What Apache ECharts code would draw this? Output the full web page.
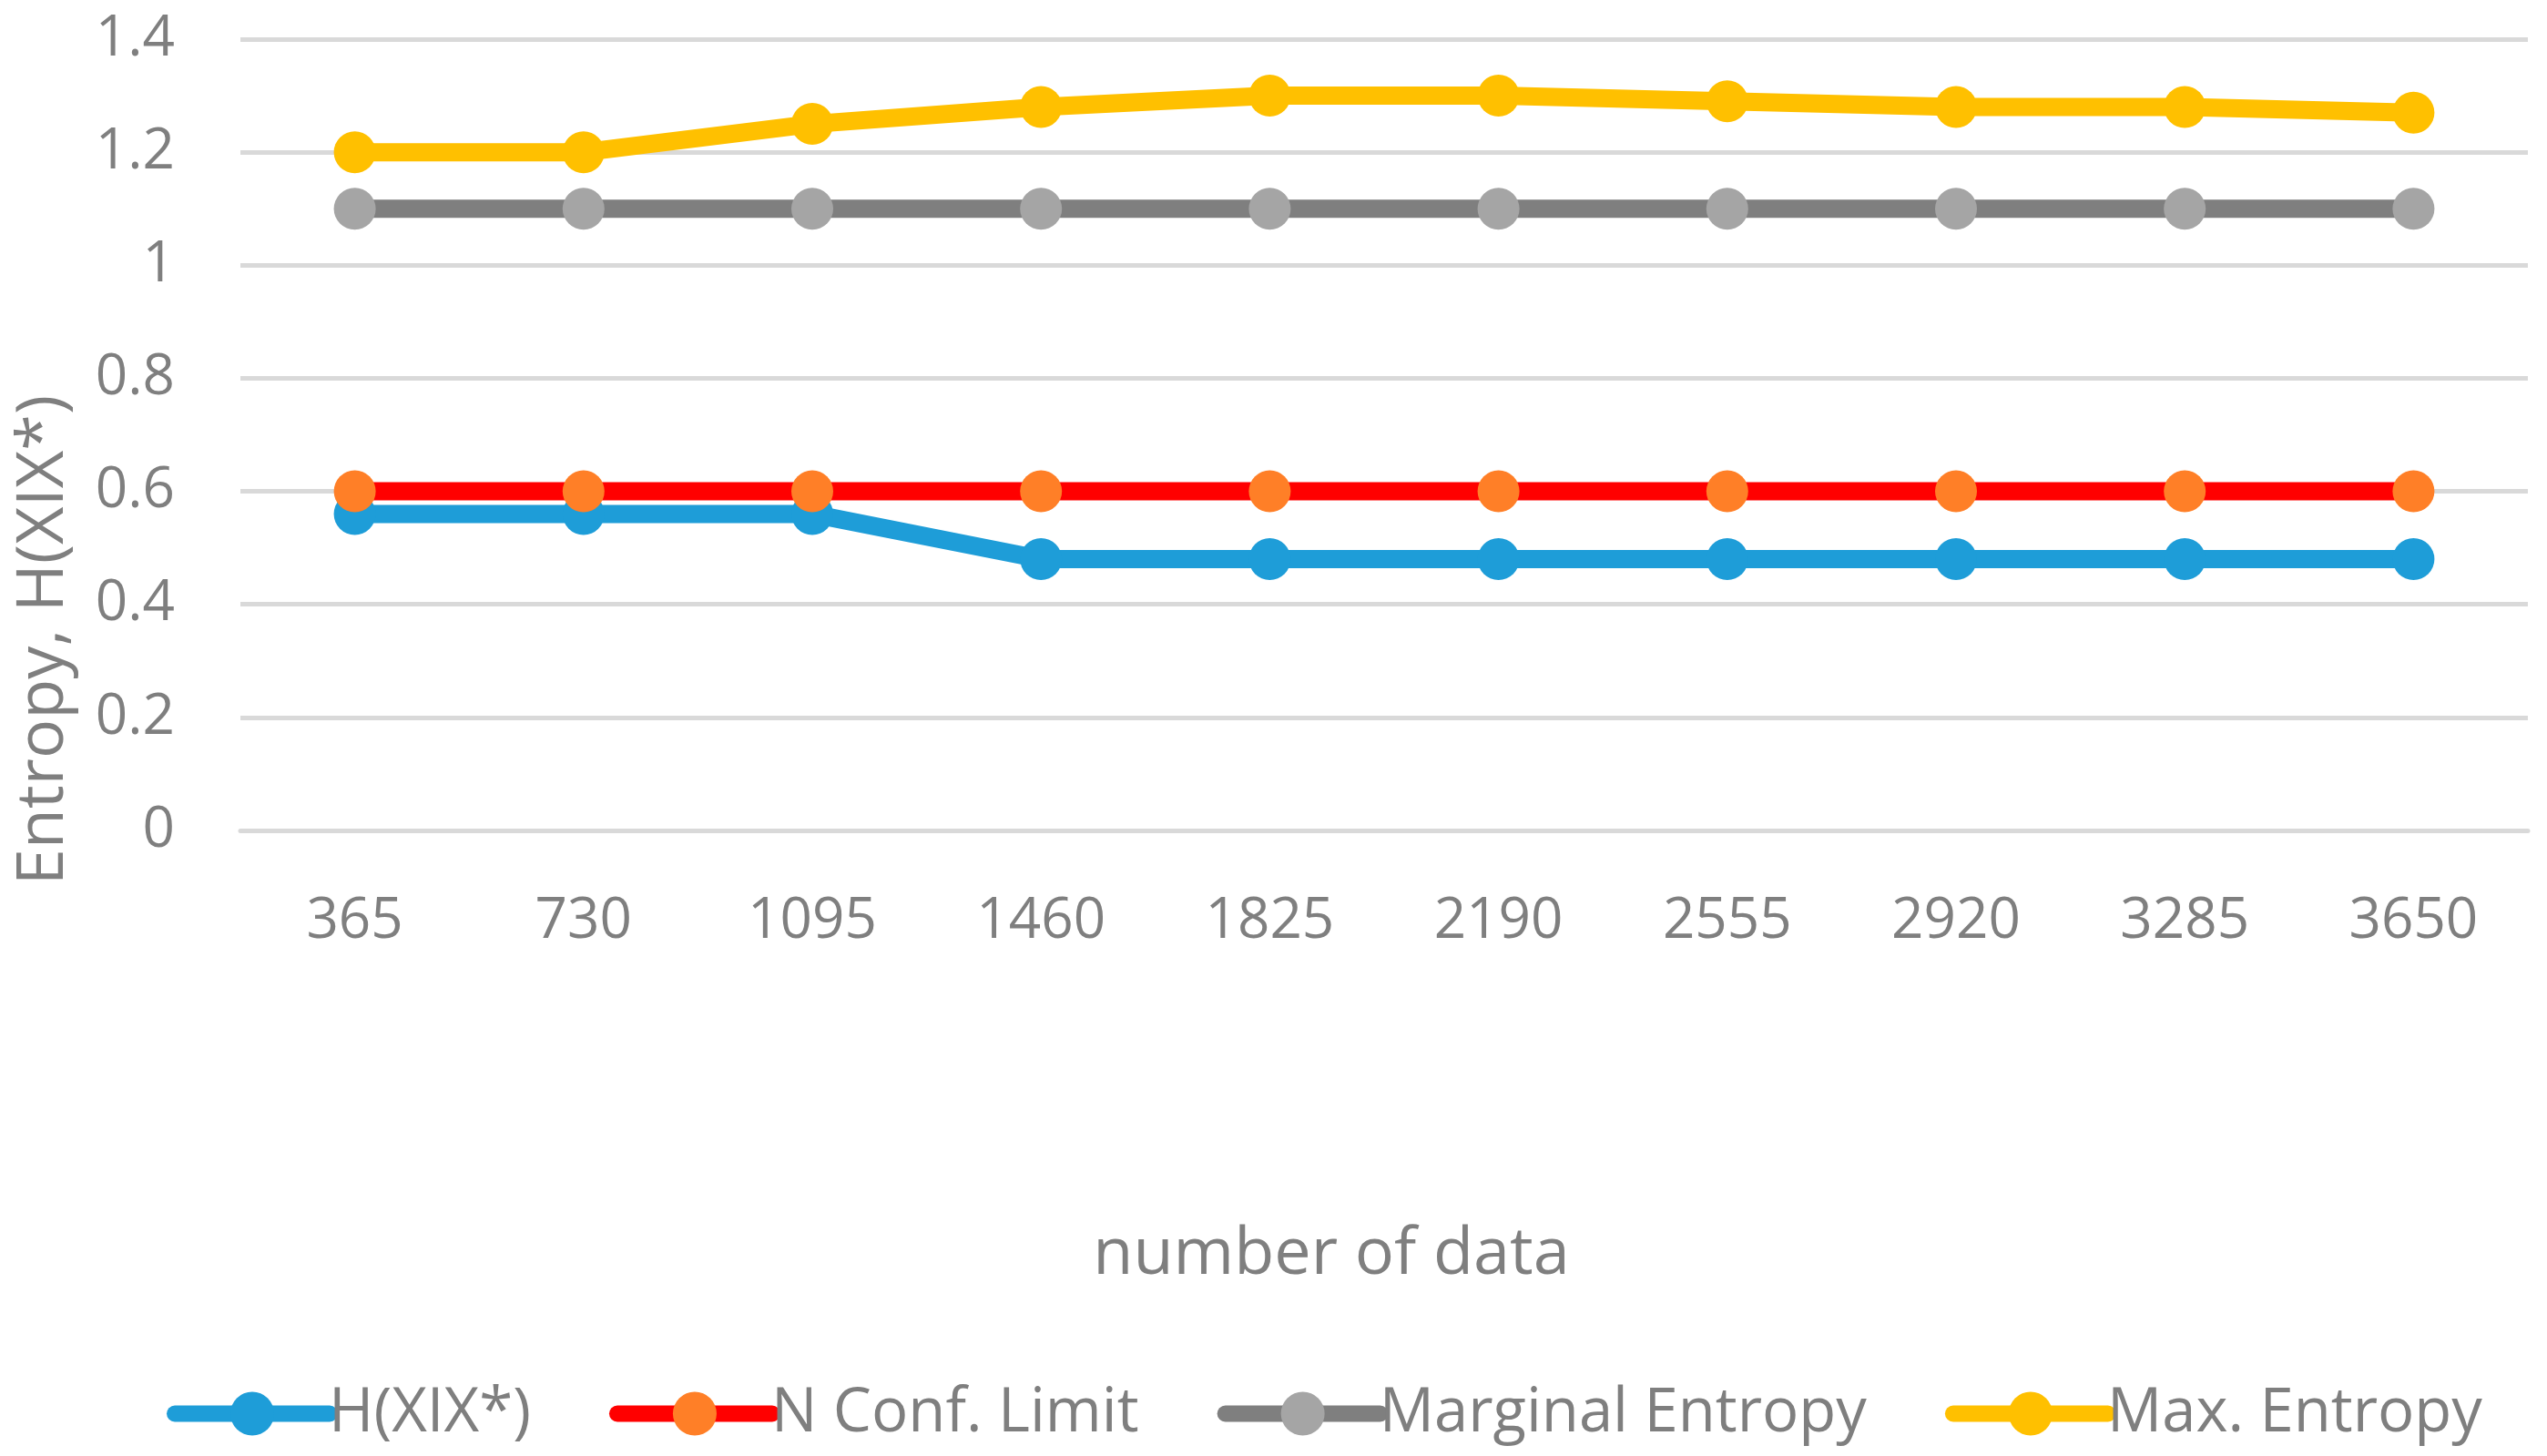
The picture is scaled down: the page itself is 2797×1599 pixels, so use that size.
<!DOCTYPE html>
<html>
<head>
<meta charset="utf-8">
<script src="https://cdn.jsdelivr.net/npm/echarts@6/dist/echarts.min.js"></script>
<style>html,body{margin:0;padding:0;background:#fff;}#c{width:2797px;height:1599px;}</style>
</head>
<body>
<div id="c"></div>
<script>
const categories = ['365','730','1095','1460','1825','2190','2555','2920','3285','3650'];
const hCond = [0.56,0.56,0.56,0.48,0.48,0.48,0.48,0.48,0.48,0.48];
const nConf = [0.6,0.6,0.6,0.6,0.6,0.6,0.6,0.6,0.6,0.6];
const marginal = [1.1,1.1,1.1,1.1,1.1,1.1,1.1,1.1,1.1,1.1];
const maxEnt = [1.2,1.2,1.25,1.28,1.3,1.3,1.29,1.28,1.28,1.27];
const seriesNames = ['H(XIX*)','N Conf. Limit','Marginal Entropy','Max. Entropy'];

const FONT = '"Open Sans", "Liberation Sans", sans-serif';
const TXT = '#7F7F7F';

function mk(name, data, lineColor, markColor){
  return {
    name, type:'line', data,
    symbol:'circle', symbolSize:46,
    lineStyle:{color:lineColor, width:20},
    itemStyle:{color:markColor},
    emphasis:{disabled:true},
    animation:false
  };
}

const chart = echarts.init(document.getElementById('c'));
chart.setOption({
  backgroundColor:'#fff',
  animation:false,
  textStyle:{fontFamily:FONT},
  grid:{left:264, right:21, top:43, bottom:687, containLabel:false},
  xAxis:{
    type:'category', data:categories, boundaryGap:true,
    axisLine:{show:true, lineStyle:{color:'#D9D9D9', width:5}},
    axisTick:{show:false},
    axisLabel:{color:TXT, fontSize:62, fontFamily:FONT, margin:69}
  },
  yAxis:{
    type:'value', min:0, max:1.4, interval:0.2,
    axisLine:{show:false}, axisTick:{show:false},
    splitLine:{lineStyle:{color:'#D9D9D9', width:5}},
    axisLabel:{color:TXT, fontSize:62, fontFamily:FONT, margin:72}
  },
  legend:{
    data:seriesNames, left:178, top:1514,
    itemWidth:170, itemHeight:60, itemGap:86,
    lineStyle:{width:18, cap:'round'},
    textStyle:{color:TXT, fontSize:67, fontFamily:FONT, padding:[0,0,0,-6]}
  },
  graphic:[
    {type:'text', x:48, y:703, rotation:Math.PI/2,
     style:{text:'Entropy, H(XIX*)', fill:TXT, font:'72px '+FONT, align:'center', verticalAlign:'middle'}},
    {type:'text', x:1462, y:1378,
     style:{text:'number of data', fill:TXT, font:'72px '+FONT, align:'center', verticalAlign:'middle'}}
  ],
  series:[
    mk(seriesNames[0], hCond, '#1E9DD8', '#1E9DD8'),
    mk(seriesNames[1], nConf, '#FF0000', '#FF7F27'),
    mk(seriesNames[2], marginal, '#7F7F7F', '#A5A5A5'),
    mk(seriesNames[3], maxEnt, '#FFC000', '#FFC000')
  ]
});
</script>
</body>
</html>
